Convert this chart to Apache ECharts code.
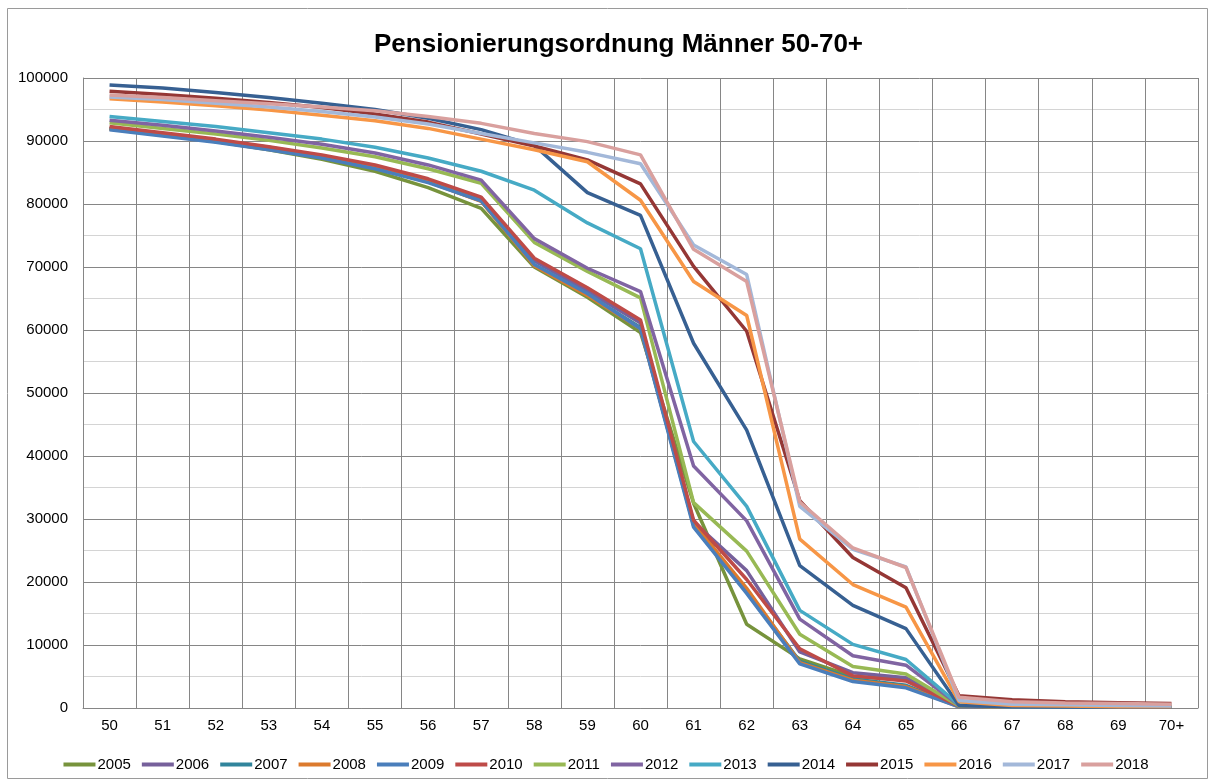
<!DOCTYPE html>
<html>
<head>
<meta charset="utf-8">
<script src="https://cdn.jsdelivr.net/npm/echarts@6/dist/echarts.min.js"></script>
<style>
html,body{margin:0;padding:0;background:#fff;}
#c{width:1212px;height:783px;}
</style>
</head>
<body>
<div id="c"></div>
<script>
var categories = ['50','51','52','53','54','55','56','57','58','59','60','61','62','63','64','65','66','67','68','69','70+'];
var years = ['2005','2006','2007','2008','2009','2010','2011','2012','2013','2014','2015','2016','2017','2018'];
var colors = ['#77933C','#76609B','#31859C','#DC7A2D','#4A7EBB','#BE4B48','#98B954','#8064A2','#46AAC5','#376092','#953735','#F79646','#A3B8D9','#D9A09E'];

var s2005 = [92000,91000,89900,88600,87100,85200,82600,79300,70000,65200,59600,32500,13300,7800,5000,4500,300,150,100,100,100];
var s2006 = [92000,91100,90100,89000,87600,86000,83800,80800,71000,66200,61100,29500,21800,8900,5600,4800,300,150,100,100,100];
var s2007 = [92000,91000,90000,88800,87500,85900,83600,80500,70300,65600,60400,29000,18600,7400,4600,3600,300,150,100,100,100];
var s2008 = [91900,90900,89900,88700,87400,85800,83500,80400,70200,65500,60200,29300,19000,7200,4400,3400,200,150,100,100,100];
var s2009 = [91800,90800,89800,88600,87300,85600,83400,80500,70400,65800,60200,28700,18200,7000,4200,3200,200,150,100,100,100];
var s2010 = [92300,91300,90300,89100,87800,86200,84000,81100,71400,66700,61600,29800,20400,9400,5100,4300,300,150,100,100,100];
var s2011 = [92900,92000,91100,90100,88900,87500,85600,83300,73900,69300,65100,32600,24900,11700,6600,5400,300,150,100,100,100];
var s2012 = [93300,92500,91600,90600,89500,88100,86200,83800,74500,69800,66100,38400,29700,14100,8300,6800,400,200,150,100,100];
var s2013 = [93900,93100,92300,91300,90300,89000,87300,85200,82200,77000,72900,42300,32000,15500,10100,7700,500,200,150,100,100];
var s2014 = [98900,98400,97700,96900,96000,95000,93600,91800,89300,81800,78200,57900,44100,22600,16300,12600,400,200,150,100,100];
var s2015 = [97900,97400,96800,96100,95300,94300,93000,91100,89200,87000,83200,70100,59800,32900,23900,19100,1950,1300,1000,850,700];
var s2016 = [96700,96200,95600,94900,94100,93200,92000,90300,88600,86700,80600,67700,62300,26800,19600,16000,1000,400,300,200,200];
var s2017 = [97000,96600,96000,95400,94700,93800,92700,91200,89700,88200,86400,73500,68800,32000,25200,22400,1200,600,500,400,300];
var s2018 = [97300,96900,96400,95900,95400,94800,93900,92800,91200,89900,87800,72800,67700,32700,25400,22300,1700,1000,800,700,600];

var seriesData = [s2005,s2006,s2007,s2008,s2009,s2010,s2011,s2012,s2013,s2014,s2015,s2016,s2017,s2018];
var FONT = '"Liberation Sans", Arial, sans-serif';

var series = years.map(function(y, i){
  return {
    name: y, type: 'line', data: seriesData[i], showSymbol: false, symbol: 'none',
    lineStyle: {width: 3.5, color: colors[i]}, itemStyle: {color: colors[i]}, z: 2 + i
  };
});

var chart = echarts.init(document.getElementById('c'), null, {renderer: 'canvas'});
chart.setOption({
  animation: false,
  backgroundColor: '#fff',
  color: colors,
  title: {
    text: 'Pensionierungsordnung Männer 50-70+',
    left: 369, top: 27,
    textStyle: {fontFamily: FONT, fontSize: 26, fontWeight: 'bold', color: '#000'}
  },
  graphic: [{
    type: 'rect', shape: {x: 7.5, y: 8.5, width: 1200, height: 770},
    style: {fill: 'none', stroke: '#9a9a9a', lineWidth: 1}, z: -1, silent: true
  }],
  grid: {left: 83, right: 14, top: 78, bottom: 75, containLabel: false},
  xAxis: {
    type: 'category', data: categories, boundaryGap: true,
    axisLine: {show: true, lineStyle: {color: '#868686', width: 1}},
    axisTick: {show: false},
    axisLabel: {fontFamily: FONT, fontSize: 15, color: '#000', margin: 10, interval: 0},
    splitLine: {show: true, interval: 0, lineStyle: {color: '#868686', width: 1}}
  },
  yAxis: {
    type: 'value', min: 0, max: 100000, interval: 10000,
    axisLine: {show: true, lineStyle: {color: '#868686', width: 1}},
    axisTick: {show: false},
    axisLabel: {fontFamily: FONT, fontSize: 15, color: '#000', margin: 15,
      formatter: function(v){ return String(v); }},
    splitLine: {show: true, lineStyle: {color: '#868686', width: 1}},
    minorTick: {show: false, splitNumber: 2},
    minorSplitLine: {show: true, lineStyle: {color: '#d4d4d4', width: 1}}
  },
  legend: {
    data: years, bottom: 6, left: 'center',
    icon: 'rect', itemWidth: 32, itemHeight: 4, itemGap: 11,
    textStyle: {fontFamily: FONT, fontSize: 15, color: '#000', padding: [0,0,0,-3]}
  },
  series: series
});
</script>
</body>
</html>
